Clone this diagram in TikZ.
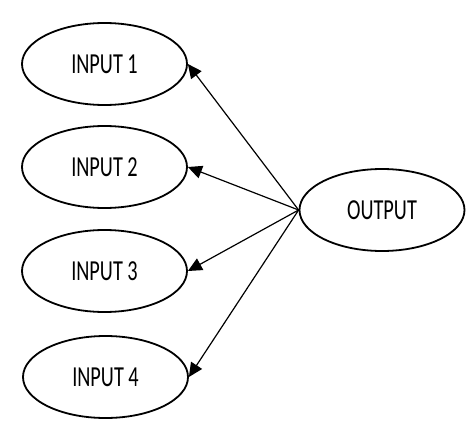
\documentclass[tikz,border=0pt]{standalone}
\usepackage{fontspec}
\setmainfont{Carlito}
\usetikzlibrary{shapes.geometric,arrows.meta}
\begin{document}
\begin{tikzpicture}[x=1pt,y=-1pt,
  oval/.style={draw,ellipse,line width=1.8pt,minimum width=165pt,minimum height=82pt,inner sep=0pt,
    font=\fontsize{29}{30}\selectfont},
  link/.style={line width=1.2pt,-{Triangle[length=14pt,width=13pt]}}]
\useasboundingbox (0,0) rectangle (474,431);
\node[oval] (i1) at (104.5,64) {\scalebox{0.7}[1]{INPUT 1}};
\node[oval] (i2) at (104.5,167) {\scalebox{0.7}[1]{INPUT 2}};
\node[oval] (i3) at (104.5,271) {\scalebox{0.7}[1]{INPUT 3}};
\node[oval] (i4) at (105.5,377) {\scalebox{0.7}[1]{INPUT 4}};
\node[oval] (o) at (382,210) {\scalebox{0.7}[1]{OUTPUT}};
\foreach \t in {i1,i2,i3,i4} \draw[link] (o.west) -- (\t.east);
\end{tikzpicture}
\end{document}
